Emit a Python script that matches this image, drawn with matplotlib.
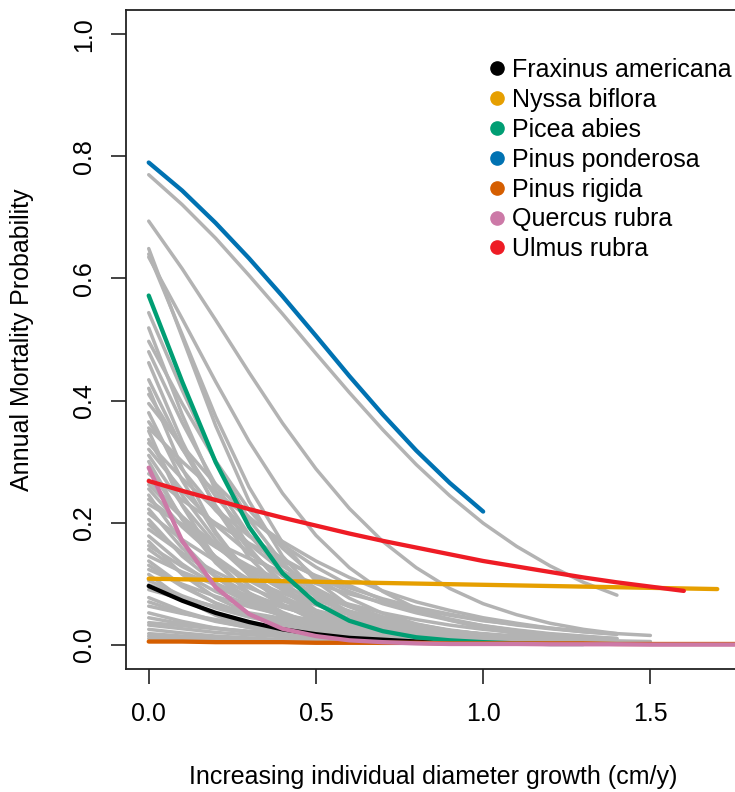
import matplotlib
matplotlib.use("Agg")
import matplotlib.pyplot as plt
from matplotlib.lines import Line2D

plt.rcParams['font.family'] = ['Liberation Sans', 'DejaVu Sans']

# growth grid (cm/y), curves are sampled every 0.1
x_grid = [0.0, 0.1, 0.2, 0.3, 0.4, 0.5, 0.6, 0.7, 0.8, 0.9,
          1.0, 1.1, 1.2, 1.3, 1.4, 1.5, 1.6, 1.7, 1.8]

# other species (grey)
gray_curves = [
    [0.770, 0.721, 0.666, 0.605, 0.542, 0.477, 0.413, 0.352, 0.295, 0.244, 0.199, 0.161, 0.129, 0.102, 0.081],
    [0.694, 0.616, 0.532, 0.446, 0.363, 0.288, 0.223, 0.169, 0.126, 0.092, 0.067, 0.049, 0.035, 0.025, 0.018],
    [0.649, 0.504, 0.359, 0.235, 0.145, 0.085, 0.049, 0.027, 0.015, 0.008, 0.005],
    [0.640, 0.508, 0.374, 0.258, 0.167, 0.104, 0.063, 0.038, 0.022, 0.013, 0.008, 0.004],
    [0.635, 0.534, 0.431, 0.333, 0.248, 0.179, 0.126, 0.087, 0.059, 0.040, 0.027, 0.018, 0.012],
    [0.544, 0.417, 0.300, 0.205, 0.134, 0.085, 0.053, 0.032, 0.020, 0.012, 0.007, 0.004],
    [0.519, 0.377, 0.253, 0.159, 0.096, 0.056, 0.032, 0.018, 0.010, 0.006, 0.003],
    [0.497, 0.395, 0.301, 0.221, 0.158, 0.110, 0.076, 0.051, 0.034, 0.023, 0.015, 0.010, 0.007, 0.004],
    [0.480, 0.364, 0.262, 0.180, 0.120, 0.078, 0.050, 0.031, 0.020, 0.012, 0.008, 0.005],
    [0.462, 0.333, 0.224, 0.143, 0.089, 0.053, 0.032, 0.019, 0.011, 0.006, 0.004],
    [0.434, 0.322, 0.228, 0.155, 0.102, 0.066, 0.042, 0.026, 0.016, 0.010, 0.006, 0.004, 0.002],
    [0.420, 0.289, 0.185, 0.113, 0.066, 0.038, 0.022, 0.012, 0.007, 0.004],
    [0.410, 0.321, 0.243, 0.179, 0.129, 0.092, 0.064, 0.045, 0.031, 0.021, 0.014, 0.010, 0.007, 0.005],
    [0.395, 0.326, 0.263, 0.209, 0.164, 0.127, 0.097, 0.073, 0.055, 0.042, 0.031, 0.023, 0.017, 0.013],
    [0.380, 0.269, 0.181, 0.117, 0.074, 0.046, 0.028, 0.017, 0.010, 0.006, 0.004],
    [0.365, 0.287, 0.220, 0.165, 0.121, 0.088, 0.063, 0.045, 0.032, 0.023, 0.016, 0.011, 0.008, 0.006, 0.004],
    [0.355, 0.300, 0.251, 0.207, 0.169, 0.137, 0.110, 0.088, 0.070, 0.056, 0.044, 0.035, 0.027, 0.021, 0.017],
    [0.350, 0.228, 0.140, 0.082, 0.047, 0.026, 0.015, 0.008, 0.005, 0.002],
    [0.336, 0.245, 0.172, 0.117, 0.078, 0.052, 0.034, 0.022, 0.014, 0.009, 0.006, 0.004],
    [0.330, 0.272, 0.222, 0.178, 0.141, 0.111, 0.087, 0.067, 0.052, 0.040, 0.031, 0.024, 0.018, 0.014, 0.010],
    [0.320, 0.253, 0.196, 0.150, 0.112, 0.083, 0.062, 0.045, 0.033, 0.024, 0.017, 0.013, 0.009, 0.007, 0.005, 0.003],
    [0.310, 0.229, 0.164, 0.114, 0.079, 0.053, 0.036, 0.024, 0.016, 0.011, 0.007, 0.005],
    [0.300, 0.205, 0.134, 0.085, 0.053, 0.032, 0.020, 0.012, 0.007, 0.004, 0.003],
    [0.290, 0.207, 0.143, 0.097, 0.064, 0.042, 0.027, 0.018, 0.011, 0.007, 0.005],
    [0.280, 0.237, 0.199, 0.166, 0.137, 0.113, 0.093, 0.075, 0.061, 0.050, 0.040, 0.032, 0.026, 0.021, 0.017],
    [0.270, 0.210, 0.161, 0.121, 0.090, 0.067, 0.049, 0.036, 0.026, 0.019, 0.014, 0.010, 0.007, 0.005],
    [0.262, 0.208, 0.163, 0.126, 0.096, 0.073, 0.055, 0.041, 0.031, 0.023, 0.017, 0.013, 0.010, 0.007, 0.005],
    [0.255, 0.193, 0.144, 0.105, 0.076, 0.054, 0.039, 0.027, 0.019, 0.014, 0.010, 0.007, 0.005],
    [0.245, 0.167, 0.111, 0.072, 0.046, 0.029, 0.018, 0.011, 0.007, 0.004, 0.003],
    [0.238, 0.196, 0.160, 0.129, 0.104, 0.083, 0.066, 0.052, 0.041, 0.032, 0.025, 0.020, 0.016, 0.012, 0.010],
    [0.230, 0.197, 0.167, 0.141, 0.119, 0.100, 0.083, 0.069, 0.058, 0.048, 0.039, 0.033, 0.027, 0.022, 0.018, 0.015],
    [0.222, 0.158, 0.111, 0.076, 0.051, 0.034, 0.023, 0.015, 0.010, 0.007, 0.004],
    [0.215, 0.172, 0.137, 0.107, 0.084, 0.065, 0.050, 0.039, 0.030, 0.023, 0.017, 0.013, 0.010, 0.008],
    [0.205, 0.145, 0.101, 0.069, 0.047, 0.031, 0.021, 0.014, 0.009, 0.006, 0.004, 0.003],
    [0.197, 0.150, 0.113, 0.084, 0.062, 0.045, 0.033, 0.024, 0.017, 0.013, 0.009, 0.007, 0.005],
    [0.189, 0.150, 0.119, 0.093, 0.072, 0.056, 0.043, 0.033, 0.025, 0.019, 0.015, 0.011, 0.009, 0.007, 0.005, 0.004],
    [0.178, 0.132, 0.096, 0.069, 0.049, 0.035, 0.025, 0.017, 0.012, 0.009, 0.006, 0.004],
    [0.169, 0.115, 0.077, 0.051, 0.033, 0.021, 0.014, 0.009, 0.006, 0.004, 0.002],
    [0.162, 0.128, 0.100, 0.078, 0.061, 0.047, 0.036, 0.028, 0.021, 0.016, 0.012, 0.009, 0.007, 0.005],
    [0.156, 0.117, 0.087, 0.065, 0.047, 0.035, 0.025, 0.018, 0.013, 0.010, 0.007, 0.005, 0.004],
    [0.145, 0.119, 0.098, 0.080, 0.065, 0.053, 0.043, 0.034, 0.028, 0.022, 0.018, 0.014, 0.012, 0.009],
    [0.137, 0.097, 0.068, 0.048, 0.033, 0.023, 0.015, 0.011, 0.007, 0.005, 0.003, 0.002],
    [0.130, 0.095, 0.068, 0.049, 0.035, 0.024, 0.017, 0.012, 0.009, 0.006, 0.004, 0.003],
    [0.123, 0.099, 0.079, 0.062, 0.049, 0.039, 0.031, 0.024, 0.019, 0.015, 0.012, 0.009, 0.007, 0.006, 0.004],
    [0.115, 0.075, 0.048, 0.030, 0.019, 0.012, 0.007, 0.005, 0.003, 0.002],
    [0.105, 0.080, 0.060, 0.045, 0.034, 0.025, 0.019, 0.014, 0.010, 0.008, 0.006, 0.004, 0.003],
    [0.098, 0.078, 0.062, 0.049, 0.039, 0.030, 0.024, 0.019, 0.015, 0.011, 0.009, 0.007, 0.005, 0.004],
    [0.090, 0.075, 0.062, 0.052, 0.043, 0.035, 0.029, 0.024, 0.020, 0.016, 0.013, 0.011, 0.009, 0.007, 0.006, 0.005],
    [0.077, 0.055, 0.039, 0.028, 0.020, 0.014, 0.010, 0.007, 0.005, 0.003, 0.002],
    [0.070, 0.052, 0.038, 0.028, 0.021, 0.016, 0.012, 0.009, 0.006, 0.005, 0.003, 0.003],
    [0.063, 0.051, 0.041, 0.033, 0.027, 0.022, 0.017, 0.014, 0.011, 0.009, 0.007, 0.006, 0.005, 0.004, 0.003],
    [0.052, 0.038, 0.027, 0.020, 0.014, 0.010, 0.007, 0.005, 0.004, 0.003, 0.002, 0.001],
    [0.044, 0.034, 0.027, 0.021, 0.016, 0.013, 0.010, 0.008, 0.006, 0.005, 0.004, 0.003, 0.002, 0.002],
    [0.036, 0.031, 0.026, 0.022, 0.019, 0.016, 0.014, 0.012, 0.010, 0.008, 0.007, 0.006, 0.005, 0.004, 0.004, 0.003],
    [0.032, 0.026, 0.020, 0.016, 0.013, 0.010, 0.008, 0.007, 0.005, 0.004, 0.003, 0.003, 0.002],
    [0.025, 0.019, 0.014, 0.011, 0.008, 0.006, 0.005, 0.004, 0.003, 0.002, 0.002, 0.001, 0.001],
    [0.018, 0.014, 0.011, 0.009, 0.007, 0.005, 0.004, 0.003, 0.003, 0.002, 0.002, 0.001],
    [0.014, 0.012, 0.010, 0.009, 0.007, 0.006, 0.005, 0.004, 0.004, 0.003, 0.003, 0.002, 0.002, 0.002],
    [0.010, 0.008, 0.006, 0.005, 0.004, 0.003, 0.003, 0.002, 0.002, 0.001, 0.001],
]

# highlighted species
species = ['Fraxinus americana', 'Nyssa biflora', 'Picea abies', 'Pinus ponderosa',
           'Pinus rigida', 'Quercus rubra', 'Ulmus rubra']
colors = ['#000000', '#E69F00', '#009E73', '#0072B2', '#D55E00', '#CC79A7', '#EE1C25']

fraxinus = [0.096, 0.072, 0.052, 0.037, 0.025, 0.017, 0.011, 0.008, 0.005, 0.004]
nyssa = [0.108, 0.107, 0.106, 0.105, 0.104, 0.103, 0.102, 0.101, 0.100, 0.099,
         0.098, 0.097, 0.096, 0.095, 0.094, 0.093, 0.092, 0.091]
picea = [0.572, 0.431, 0.299, 0.193, 0.117, 0.068, 0.039, 0.022, 0.012, 0.007,
         0.004, 0.002, 0.001, 0.001]
ponderosa = [0.790, 0.744, 0.691, 0.633, 0.571, 0.506, 0.440, 0.377, 0.318, 0.265, 0.218]
rigida = [0.005, 0.005, 0.004, 0.004, 0.004, 0.003, 0.003, 0.003, 0.003, 0.002,
          0.002, 0.002, 0.002, 0.002, 0.001, 0.001, 0.001, 0.001, 0.001]
quercus = [0.290, 0.170, 0.094, 0.050, 0.026, 0.014, 0.007, 0.004, 0.002, 0.001,
           0.001, 0.001, 0.0005, 0.0005, 0.0005, 0.0, 0.0, 0.0, 0.0]
ulmus = [0.268, 0.252, 0.237, 0.222, 0.208, 0.195, 0.182, 0.170, 0.159, 0.148,
         0.137, 0.128, 0.119, 0.110, 0.102, 0.095, 0.088]
sp_curves = [fraxinus, nyssa, picea, ponderosa, rigida, quercus, ulmus]

fig = plt.figure(figsize=(7.35, 7.92), dpi=100)
ax = fig.add_axes([0.1714, 0.1553, 0.8354, 0.8321])

for g in gray_curves:
    ax.plot(x_grid[:len(g)], g, color='#B3B3B3', lw=2.5, solid_capstyle='round', zorder=2)

for ys, c in zip(sp_curves, colors):
    ax.plot(x_grid[:len(ys)], ys, color=c, lw=3.1, solid_capstyle='round', zorder=3)

ax.set_xlim(-0.068, 1.768)
ax.set_ylim(-0.04, 1.04)
ax.set_xticks([0.0, 0.5, 1.0, 1.5])
ax.set_xticklabels(['0.0', '0.5', '1.0', '1.5'])
ax.set_yticks([0.0, 0.2, 0.4, 0.6, 0.8, 1.0])
ax.set_yticklabels(['0.0', '0.2', '0.4', '0.6', '0.8', '1.0'], rotation=90, va='center')
ax.tick_params(axis='both', length=11, width=1.2, labelsize=18, color='#222222')
ax.tick_params(axis='x', pad=12.5)
ax.tick_params(axis='y', pad=10.5)
for s in ax.spines.values():
    s.set_linewidth(1.3)
    s.set_color('#222222')

ax.set_xlabel('Increasing individual diameter growth (cm/y)', fontsize=18)
ax.set_ylabel('Annual Mortality Probability', fontsize=18)
ax.xaxis.set_label_coords(0.5, -0.145)
ax.yaxis.set_label_coords(-0.15, 0.5)

handles = [Line2D([], [], marker='o', ls='none', color=c, markersize=9.5) for c in colors]
ax.legend(handles, species, loc='upper left', frameon=False, fontsize=18,
          bbox_to_anchor=(490.75 / 735, 1 - 58.1 / 792), bbox_transform=fig.transFigure,
          borderaxespad=0, borderpad=0, handlelength=0.5, handletextpad=0.35,
          labelspacing=0.234)

fig.savefig('out.png', dpi=100)
